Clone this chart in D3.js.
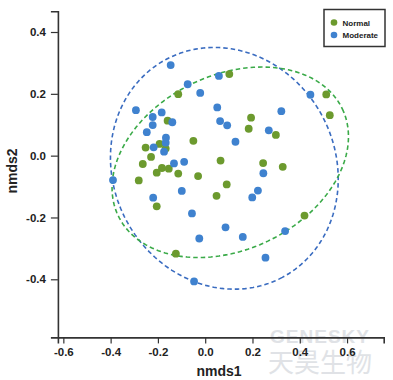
<!DOCTYPE html>
<html><head><meta charset="utf-8">
<script src="https://cdn.jsdelivr.net/npm/d3@7"></script>
<style>html,body{margin:0;padding:0;background:#fff;}svg{display:block;}</style>
</head><body>
<svg id="chart" width="393" height="380"></svg>
<script>
// ---- data ----
const groups = ["Normal", "Moderate"];
const normalX = [-0.114,0.102,-0.159,-0.050,-0.193,-0.252,-0.167,-0.229,-0.264,-0.183,-0.154,-0.205,-0.114,-0.030,-0.281,-0.205,-0.124,0.194,0.184,0.299,0.512,0.527,0.065,0.245,0.328,0.091,0.048,0.420];
const normalY = [0.199,0.264,0.113,0.048,0.038,0.026,0.023,-0.004,-0.027,-0.040,-0.042,-0.055,-0.058,-0.066,-0.080,-0.164,-0.317,0.123,0.087,0.067,0.198,0.131,-0.016,-0.024,-0.036,-0.093,-0.130,-0.194];
const moderateX = [-0.146,-0.074,-0.021,0.058,-0.293,-0.222,-0.184,-0.139,-0.222,-0.247,-0.166,-0.167,-0.218,-0.174,-0.132,-0.089,-0.390,-0.220,-0.099,-0.056,-0.025,-0.047,0.051,0.063,0.093,0.269,0.322,0.445,0.128,0.246,0.223,0.199,0.086,0.159,0.338,0.255];
const moderateY = [0.293,0.231,0.203,0.258,0.147,0.125,0.140,0.108,0.099,0.076,0.058,0.042,0.027,0.013,-0.025,-0.020,-0.079,-0.136,-0.114,-0.187,-0.268,-0.407,0.156,0.112,0.098,0.082,0.144,0.197,0.045,-0.057,-0.113,-0.135,-0.232,-0.263,-0.244,-0.330];
// ellipses: centre and two conjugate semi-axis vectors (data units)
const normalEllipse = {cx: 0.106, cy: -0.0215, u1: [0.474, 0.173], u2: [0.159, -0.255]};
const moderateEllipse = {cx: 0.081, cy: -0.041, u1: [0.2453, -0.3528], u2: [-0.4146, -0.1686]};
const xTicks = [-0.6, -0.4, -0.2, 0.0, 0.2, 0.4, 0.6];
const yTicks = [-0.4, -0.2, 0.0, 0.2, 0.4];
const xDomain = [-0.623, 0.755];
const yDomain = [-0.588, 0.467];
const xTitle = "nmds1", yTitle = "nmds2";

// ---- drawing ----
const pointColor = {Normal: "#6c9a2e", Moderate: "#3f82cf"};
const ellColor = {Normal: "#3aaa48", Moderate: "#3a6cc0"};
const svg = d3.select("#chart");
const x = d3.scaleLinear().domain(xDomain).range([57.9, 383.7]);
const y = d3.scaleLinear().domain(yDomain).range([337.4, 11.3]);

// watermark
const wm = svg.append("g").attr("fill", "#d3d7dc").attr("opacity", 0.7);
wm.append("text").attr("x", 320).attr("y", 343).attr("text-anchor", "middle")
  .style("font", "bold 19px 'Liberation Sans', Arial, sans-serif").attr("letter-spacing", "1").text("GENESKY");
wm.append("text").attr("x", 320).attr("y", 372).attr("text-anchor", "middle")
  .style("font", "26px 'Noto Sans CJK SC', sans-serif").text("天昊生物");

function ellPath(e) {
  const pts = d3.range(0, 361, 2).map(a => {
    const t = a * Math.PI / 180;
    return [e.cx + e.u1[0]*Math.cos(t) + e.u2[0]*Math.sin(t), e.cy + e.u1[1]*Math.cos(t) + e.u2[1]*Math.sin(t)];
  });
  return d3.line().x(d => x(d[0])).y(d => y(d[1])).curve(d3.curveLinearClosed)(pts);
}
svg.append("path").attr("d", ellPath(moderateEllipse)).attr("fill", "none")
  .attr("stroke", ellColor.Moderate).attr("stroke-width", 1.6).attr("stroke-dasharray", "4.5,3");
svg.append("path").attr("d", ellPath(normalEllipse)).attr("fill", "none")
  .attr("stroke", ellColor.Normal).attr("stroke-width", 1.6).attr("stroke-dasharray", "4.5,3");

const pts = [];
normalX.forEach((v, i) => pts.push({g: "Normal", x: v, y: normalY[i]}));
moderateX.forEach((v, i) => pts.push({g: "Moderate", x: v, y: moderateY[i]}));
svg.append("g").selectAll("circle").data(pts).join("circle")
  .attr("cx", d => x(d.x)).attr("cy", d => y(d.y)).attr("r", 3.9)
  .attr("fill", d => pointColor[d.g]);

// axes
const fontTick = "bold 11.5px 'Liberation Sans', Arial, sans-serif";
const gx = svg.append("g").attr("transform", `translate(0,${y(yDomain[0])})`)
  .call(d3.axisBottom(x).tickValues(xTicks).tickFormat(d3.format(".1f")).tickSizeOuter(0).tickSize(6).tickPadding(4));
const gy = svg.append("g").attr("transform", `translate(${x(xDomain[0])},0)`)
  .call(d3.axisLeft(y).tickValues(yTicks).tickFormat(d3.format(".1f")).tickSizeOuter(0).tickSize(7).tickPadding(5));
[gx, gy].forEach(g => {
  g.select(".domain").attr("stroke", "#333").attr("stroke-width", 1.6);
  g.selectAll(".tick line").attr("stroke", "#333").attr("stroke-width", 1.2);
  g.selectAll(".tick text").style("font", fontTick).attr("fill", "#222");
});
gx.selectAll(".tick text").text(d => d3.format(".1f")(d).replace("−", "-"));
gy.selectAll(".tick text").text(d => d3.format(".1f")(d).replace("−", "-"));

svg.append("text").attr("x", 219).attr("y", 376).attr("text-anchor", "middle")
  .style("font", "bold 14px 'Liberation Sans', Arial, sans-serif").attr("fill", "#222").text(xTitle);
svg.append("text").attr("transform", "translate(17,171) rotate(-90)").attr("text-anchor", "middle")
  .style("font", "bold 14px 'Liberation Sans', Arial, sans-serif").attr("fill", "#222").text(yTitle);

// legend
const lg = svg.append("g");
lg.append("rect").attr("x", 324).attr("y", 9.5).attr("width", 61).attr("height", 37)
  .attr("fill", "#fff").attr("stroke", "#333").attr("stroke-width", 1.5);
groups.forEach((g, i) => {
  lg.append("circle").attr("cx", 334).attr("cy", 22.5 + i * 12.5).attr("r", 3.3).attr("fill", pointColor[g]);
  lg.append("text").attr("x", 342.5).attr("y", 25.5 + i * 12.5)
    .style("font", "bold 8px 'Liberation Sans', Arial, sans-serif").attr("fill", "#222").text(g);
});
</script>
</body></html>
